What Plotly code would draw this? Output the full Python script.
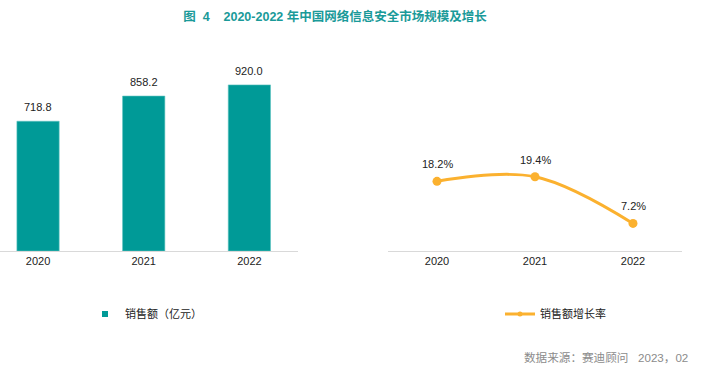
import plotly.graph_objects as go

years = ["2020", "2021", "2022"]
sales = [718.8, 858.2, 920.0]
growth = [18.2, 19.4, 7.2]

TEAL = "#009A97"
ORANGE = "#FBB12F"
FONT = "Arial, Liberation Sans, Noto Sans CJK SC, sans-serif"

fig = go.Figure()
fig.add_trace(go.Bar(
    x=years, y=sales, name="销售额（亿元）",
    marker=dict(color=TEAL, line=dict(color="#5CC3C0", width=0.6)),
    width=0.4, showlegend=False,
    xaxis="x", yaxis="y",
))
fig.add_trace(go.Scatter(
    x=years, y=growth, name="销售额增长率",
    mode="lines+markers",
    line=dict(color=ORANGE, width=3, shape="spline", smoothing=1.0),
    marker=dict(color=ORANGE, size=9), showlegend=False,
    xaxis="x2", yaxis="y2",
))
# legend entries (no data drawn)
fig.add_trace(go.Scatter(
    x=[None], y=[None], name="销售额（亿元）", mode="markers",
    marker=dict(color=TEAL, symbol="square", size=6),
    xaxis="x", yaxis="y", legend="legend", showlegend=True,
))
fig.add_trace(go.Scatter(
    x=[None], y=[None], name="销售额增长率", mode="lines+markers",
    line=dict(color=ORANGE, width=3), marker=dict(color=ORANGE, size=5),
    xaxis="x2", yaxis="y2", legend="legend2", showlegend=True,
))

annotations = []
for i, v in enumerate(sales):
    annotations.append(dict(x=i, y=v, xref="x", yref="y", text=f"{v:.1f}",
                            showarrow=False, yshift=14, yanchor="middle",
                            font=dict(size=11, color="#222222")))
for i, v in enumerate(growth):
    annotations.append(dict(x=i, y=v, xref="x2", yref="y2", text=f"{v:.1f}%",
                            showarrow=False, yshift=17, yanchor="middle",
                            font=dict(size=11, color="#222222")))
annotations.append(dict(text="数据来源：赛迪顾问&nbsp;&nbsp;&nbsp;2023，02", xref="paper", yref="paper",
                        x=690 / 706, y=1 - 357 / 374, xanchor="right", yanchor="middle",
                        showarrow=False, font=dict(size=11.6, color="#8C8C8C")))

ydom = [123 / 374, 1 - 60 / 374]
axis_common = dict(showgrid=False, zeroline=False, showline=True,
                   linecolor="#D9D9D9", linewidth=1, ticks="",
                   tickfont=dict(size=11, color="#222222"), fixedrange=True)
fig.update_layout(
    width=706, height=374, showlegend=True,
    margin=dict(l=0, r=0, t=0, b=0),
    paper_bgcolor="white", plot_bgcolor="white",
    font=dict(family=FONT, size=11, color="#222222"),
    xaxis=dict(domain=[0, 298 / 706], range=[-0.36, 2.46], type="category", **axis_common),
    yaxis=dict(domain=ydom, range=[0, 1058], visible=False, fixedrange=True),
    xaxis2=dict(domain=[388 / 706, 682 / 706], range=[-0.5, 2.5], type="category",
                anchor="y2", **axis_common),
    yaxis2=dict(domain=ydom, range=[0, 49.9], visible=False, anchor="x2", fixedrange=True),
    legend=dict(x=85 / 706, y=1 - 314 / 374, xanchor="left", yanchor="middle",
                font=dict(size=11, color="#222222"), bgcolor="rgba(0,0,0,0)"),
    legend2=dict(x=500 / 706, y=1 - 314 / 374, xanchor="left", yanchor="middle",
                 font=dict(size=11, color="#222222"), bgcolor="rgba(0,0,0,0)"),
    title=dict(text="<b>图&nbsp;&nbsp;4&nbsp;&nbsp;&nbsp;&nbsp;2020-2022 年中国网络信息安全市场规模及增长</b>",
               x=335 / 706, xanchor="center", y=1 - 17 / 374, yanchor="middle",
               font=dict(size=12.5, color="#1A9A99", family=FONT)),
    annotations=annotations,
)
fig.write_html("out.html", config={"displayModeBar": False},
               post_script="document.body.style.margin='0';document.body.style.overflow='hidden';")
